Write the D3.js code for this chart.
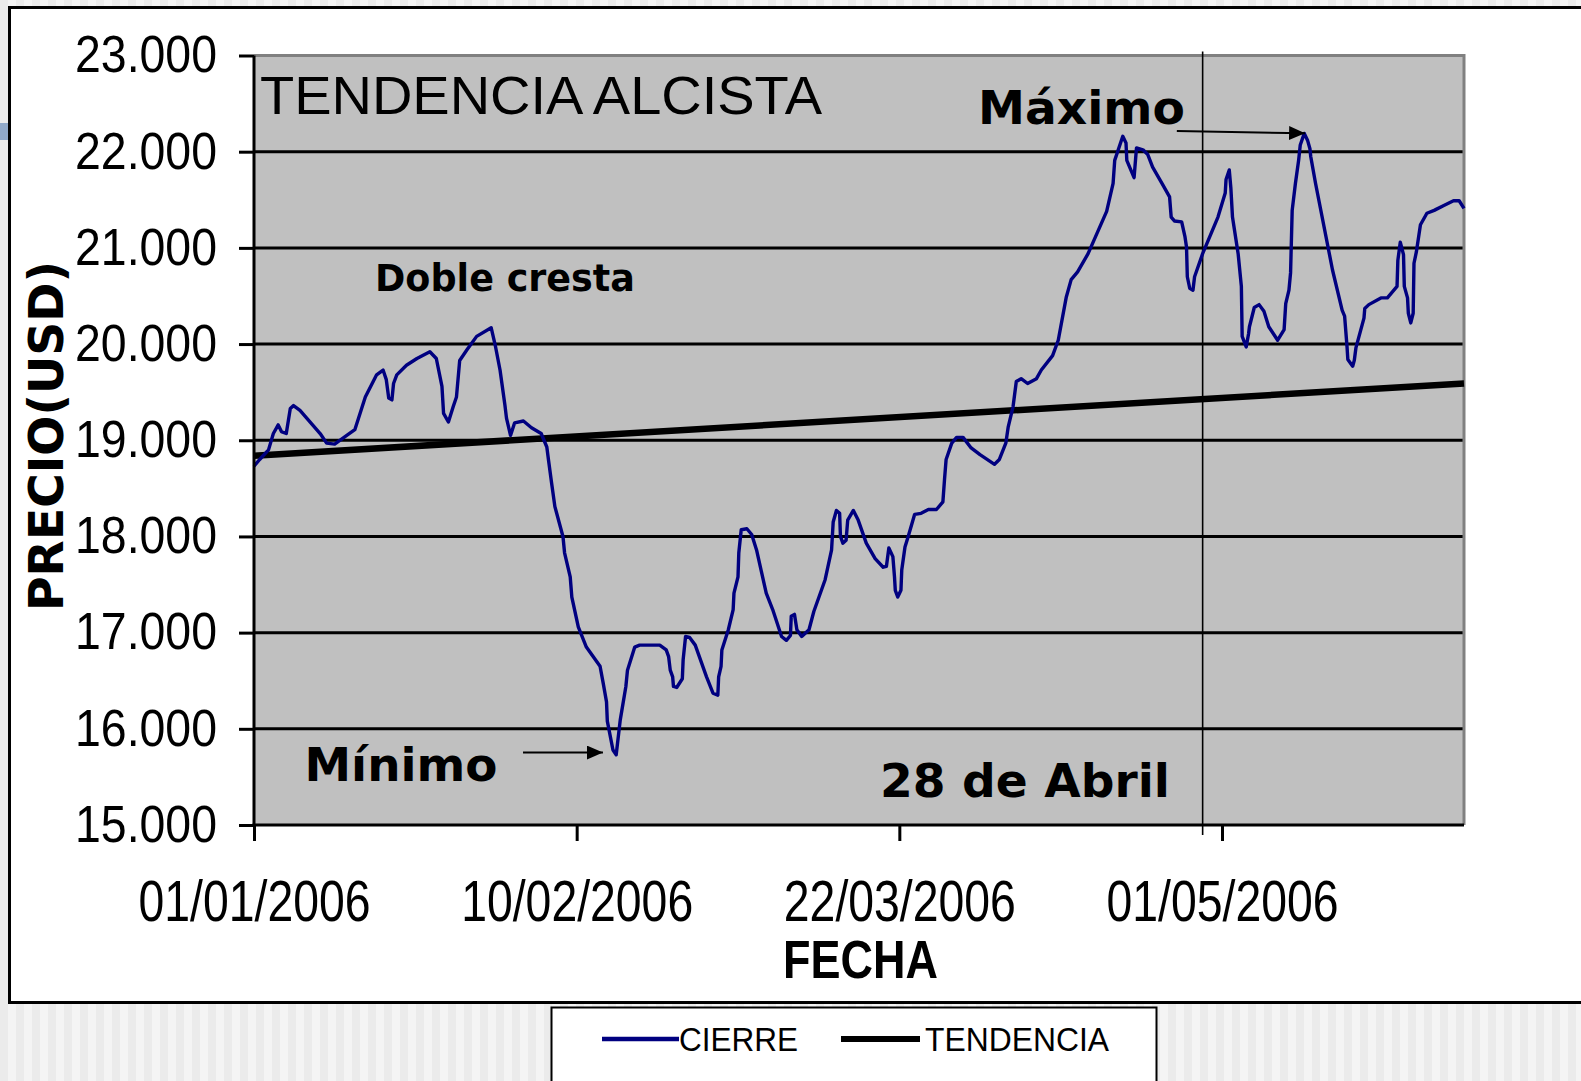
<!DOCTYPE html>
<html><head><meta charset="utf-8">
<script src="https://cdn.jsdelivr.net/npm/d3@7"></script>
<style>html,body{margin:0;padding:0;overflow:hidden;background:#f0f0f0}</style>
</head><body><svg id="c" width="1581" height="1081"></svg>
<script>
// ---------- DATA ----------
// days counted from 01/01/2006
const dias = [0,0.7,1.8,2.4,3.0,3.4,4.0,4.5,4.9,5.7,8.2,9.0,10.0,11.5,12.5,13.8,15.2,16.0,16.4,16.7,17.1,17.3,17.7,18.9,20.2,21.8,22.6,23.3,23.5,24.1,24.7,25.1,25.5,26.4,27.6,29.4,29.9,30.5,31.1,31.3,31.8,32.3,33.4,34.4,35.6,36.3,36.5,36.9,37.3,38.3,38.5,39.2,39.4,40.2,41.2,42.9,43.3,43.7,43.8,44.5,44.9,45.4,46.1,46.3,47.2,47.8,50.3,51.1,51.4,51.6,51.9,52.0,52.4,53.1,53.2,53.5,54.0,54.7,56.1,56.9,57.5,57.6,57.9,58.0,58.8,59.4,59.5,60.0,60.1,60.4,61.1,61.7,62.3,63.5,64.3,65.4,66.0,66.5,66.6,67.0,67.3,67.9,68.8,69.4,70.8,71.6,71.8,72.2,72.6,72.7,73.0,73.4,73.6,74.3,74.9,75.9,77.0,78.0,78.4,78.7,79.2,79.4,79.5,79.8,80.2,80.3,80.7,81.1,81.9,82.7,83.6,84.6,85.4,85.6,85.8,86.5,87.1,87.9,88.9,90.0,91.8,92.4,93.2,93.5,94.1,94.5,95.1,95.9,97.0,97.6,99.0,99.7,100.7,101.3,102.1,103.4,105.7,106.5,106.7,107.7,108.1,108.2,108.8,109.1,109.4,110.2,110.8,111.4,112.7,113.5,113.7,114.1,115.0,115.4,115.6,115.7,116.0,116.4,116.6,117.6,119.5,120.4,120.5,120.9,121.1,121.3,122.0,122.4,122.5,123.0,123.3,123.4,124.0,124.6,125.2,125.8,126.9,127.7,127.9,128.3,128.5,128.7,129.1,129.5,129.7,130.2,130.6,130.9,131.0,131.6,133.7,134.9,135.2,135.5,135.6,136.2,136.4,136.6,137.6,137.7,138.2,139.7,140.5,141.7,141.8,142.1,142.5,142.6,143.0,143.1,143.4,143.7,143.8,144.1,144.6,145.4,146.3,147.5,148.7,149.4,150.0];
const cierre = [18730,18800,18900,19070,19160,19090,19070,19330,19360,19310,19070,18970,18960,19050,19110,19450,19680,19730,19630,19440,19420,19590,19680,19780,19850,19920,19850,19560,19280,19190,19350,19450,19830,19940,20080,20170,19990,19730,19370,19230,19050,19180,19200,19130,19070,18930,18800,18550,18310,18000,17830,17580,17370,17060,16850,16650,16470,16280,16080,15780,15730,16090,16440,16610,16850,16870,16870,16820,16750,16610,16540,16440,16430,16520,16720,16960,16950,16870,16540,16370,16350,16540,16650,16820,17030,17240,17410,17580,17830,18070,18080,18020,17860,17410,17240,16960,16920,16970,17170,17190,17030,16960,17030,17220,17550,17860,18150,18270,18240,18000,17930,17960,18170,18270,18170,17930,17770,17680,17690,17880,17790,17580,17440,17370,17440,17650,17890,18000,18230,18240,18280,18280,18360,18590,18800,18970,19030,19030,18920,18850,18750,18800,18970,19140,19350,19610,19640,19590,19640,19730,19880,20040,20490,20670,20750,20940,21380,21670,21910,22160,22090,21910,21790,21730,22040,22020,21970,21840,21650,21530,21320,21280,21270,21120,21010,20700,20580,20560,20700,20940,21320,21570,21710,21810,21620,21320,20940,20600,20080,19970,20110,20180,20380,20410,20340,20180,20040,20150,20420,20560,20740,21390,21670,21910,22070,22190,22120,22030,21950,21670,20770,20350,20290,19970,19840,19770,19830,19960,20270,20370,20410,20480,20480,20600,20870,21060,20930,20600,20480,20320,20220,20320,20840,20960,21240,21360,21390,21440,21490,21490,21410];
const tendenciaDias = [0, 150];
const tendencia = [18840, 19590];
const yTicks = [15000,16000,17000,18000,19000,20000,21000,22000,23000];
const xTickDias = [0, 40, 80, 120];
const diaFinal = 150;
const marcaDia = 117.6;           // "28 de Abril" marker
const serieNombres = ["CIERRE", "TENDENCIA"];

// ---------- SETUP ----------
const base = Date.UTC(2006, 0, 1);
const toDate = d => new Date(base + d * 864e5);
const svg = d3.select("#c");
const L = 254, R = 1464, T = 55.5, B = 825;
const x = d3.scaleUtc().domain([toDate(0), toDate(diaFinal)]).range([L, R]);
const y = d3.scaleLinear().domain([15000, 23000]).range([B, T]);
const loc = d3.formatLocale({decimal: ",", thousands: ".", grouping: [3], currency: ["$", ""]});
const fmtY = loc.format(",d");
const fmtX = d3.utcFormat("%d/%m/%Y");
const NARROW = "'Liberation Sans Narrow','Arial Narrow','Liberation Sans',Arial,sans-serif";
const ARIAL = "'Liberation Sans',Arial,sans-serif";
const VERD = "'DejaVu Sans',Verdana,sans-serif";

// page background stripes
const defs = svg.append("defs");
const pat = defs.append("pattern").attr("id", "stripes").attr("patternUnits", "userSpaceOnUse")
  .attr("width", 16).attr("height", 16);
pat.append("rect").attr("width", 16).attr("height", 16).attr("fill", "#f4f4f4");
pat.append("rect").attr("width", 8).attr("height", 16).attr("fill", "#ebebeb");
svg.append("rect").attr("width", 1581).attr("height", 1081).attr("fill", "url(#stripes)");
svg.append("rect").attr("x", 0).attr("y", 123).attr("width", 8).attr("height", 17).attr("fill", "#91a9c9");

// chart area
svg.append("rect").attr("x", 9.5).attr("y", 7.5).attr("width", 1620).attr("height", 995)
  .attr("fill", "#fff").attr("stroke", "#000").attr("stroke-width", 3);

// plot background
svg.append("rect").attr("x", L).attr("y", T).attr("width", R - L).attr("height", B - T).attr("fill", "#c0c0c0");

// gridlines
svg.append("g").selectAll("line").data(yTicks.filter(v => v > 15000 && v < 23000)).join("line")
  .attr("x1", L).attr("x2", R).attr("y1", d => y(d)).attr("y2", d => y(d))
  .attr("stroke", "#000").attr("stroke-width", 3);

// plot border (top/right, gray)
svg.append("path").attr("d", `M${L},${T}H${R}V${B}`).attr("fill", "none")
  .attr("stroke", "#808080").attr("stroke-width", 3);

// vertical marker line
svg.append("line").attr("x1", x(toDate(marcaDia))).attr("x2", x(toDate(marcaDia)))
  .attr("y1", T - 4).attr("y2", B + 10).attr("stroke", "#000").attr("stroke-width", 1.6);

// trend
const trendData = tendenciaDias.map((d, i) => ({d: toDate(d), v: tendencia[i]}));
svg.append("path").datum(trendData)
  .attr("d", d3.line().x(p => x(p.d)).y(p => y(p.v)))
  .attr("fill", "none").attr("stroke", "#000").attr("stroke-width", 6.5);

// close series
const serie = dias.map((d, i) => ({d: toDate(d), v: cierre[i]}));
svg.append("path").datum(serie)
  .attr("d", d3.line().x(p => x(p.d)).y(p => y(p.v)))
  .attr("fill", "none").attr("stroke", "#000080").attr("stroke-width", 3.4)
  .attr("stroke-linejoin", "round");

// axes
const yAxis = d3.axisLeft(y).tickValues(yTicks).tickSize(15).tickPadding(22).tickFormat(fmtY);
const gy = svg.append("g").attr("transform", `translate(${L},0)`).call(yAxis);
gy.select(".domain").attr("stroke", "#000").attr("stroke-width", 3).attr("d", `M0,${T}V${B}`);
gy.selectAll(".tick line").attr("stroke", "#000").attr("stroke-width", 3);
gy.selectAll(".tick text").attr("font-family", NARROW).attr("font-size", 51).attr("fill", "#000")
  .attr("textLength", 142).attr("lengthAdjust", "spacingAndGlyphs");

const xAxis = d3.axisBottom(x).tickValues(xTickDias.map(toDate)).tickSize(16).tickPadding(40).tickFormat(fmtX);
const gx = svg.append("g").attr("transform", `translate(0,${B})`).call(xAxis);
gx.select(".domain").attr("stroke", "#000").attr("stroke-width", 3).attr("d", `M${L - 1.5},0H${R}`);
gx.selectAll(".tick line").attr("stroke", "#000").attr("stroke-width", 3);
gx.selectAll(".tick text").attr("font-family", NARROW).attr("font-size", 57).attr("fill", "#000")
  .attr("textLength", 232).attr("lengthAdjust", "spacingAndGlyphs");

// axis titles
svg.append("text").attr("transform", "translate(63,436) rotate(-90)").attr("text-anchor", "middle")
  .attr("font-family", VERD).attr("font-weight", "bold").attr("font-size", 48)
  .attr("textLength", 350).attr("lengthAdjust", "spacingAndGlyphs").text("PRECIO(USD)");
svg.append("text").attr("x", 860.5).attr("y", 978).attr("text-anchor", "middle")
  .attr("font-family", NARROW).attr("font-weight", "bold").attr("font-size", 53)
  .attr("textLength", 155).attr("lengthAdjust", "spacingAndGlyphs").text("FECHA");

// annotations (positions in data space)
const notas = [
  {t: "TENDENCIA ALCISTA", d: 0.74, v: 22392, f: ARIAL, w: "normal", s: 54, len: 562},
  {t: "Doble cresta", d: 15.0, v: 20547, f: VERD, w: "bold", s: 36.5, len: 260},
  {t: "Máximo", d: 89.75, v: 22288, f: VERD, w: "bold", s: 47, len: 207},
  {t: "Mínimo", d: 6.26, v: 15453, f: VERD, w: "bold", s: 47, len: 193},
  {t: "28 de Abril", d: 77.6, v: 15286, f: VERD, w: "bold", s: 47, len: 290}
];
svg.append("g").selectAll("text").data(notas).join("text")
  .attr("x", n => x(toDate(n.d))).attr("y", n => y(n.v))
  .attr("font-family", n => n.f).attr("font-weight", n => n.w).attr("font-size", n => n.s)
  .attr("textLength", n => n.len).attr("lengthAdjust", "spacingAndGlyphs").text(n => n.t);

defs.append("marker").attr("id", "ah").attr("markerUnits", "userSpaceOnUse")
  .attr("viewBox", "0 0 16 14").attr("markerWidth", 16).attr("markerHeight", 14)
  .attr("refX", 16).attr("refY", 7).attr("orient", "auto")
  .append("path").attr("d", "M0,0L16,7L0,14Z").attr("fill", "#000");
const flechas = [
  {d1: 33.35, v1: 15753, d2: 43.26, v2: 15753},
  {d1: 114.4, v1: 22215, d2: 130.3, v2: 22191}
];
svg.append("g").selectAll("line").data(flechas).join("line")
  .attr("x1", f => x(toDate(f.d1))).attr("y1", f => y(f.v1))
  .attr("x2", f => x(toDate(f.d2))).attr("y2", f => y(f.v2))
  .attr("stroke", "#000").attr("stroke-width", 2).attr("marker-end", "url(#ah)");

// legend
const lg = svg.append("g");
lg.append("rect").attr("x", 551.5).attr("y", 1007.5).attr("width", 605).attr("height", 100)
  .attr("fill", "#fff").attr("stroke", "#000").attr("stroke-width", 2);
const legItems = [
  {n: serieNombres[0], c: "#000080", sw: 4.5, x1: 602, x2: 679, tl: 119, gap: 0},
  {n: serieNombres[1], c: "#000", sw: 6, x1: 841, x2: 920, tl: 184, gap: 5}
];
legItems.forEach(it => {
  lg.append("line").attr("x1", it.x1).attr("x2", it.x2).attr("y1", 1039).attr("y2", 1039)
    .attr("stroke", it.c).attr("stroke-width", it.sw);
  lg.append("text").attr("x", it.x2 + it.gap).attr("y", 1051)
    .attr("font-family", NARROW).attr("font-size", 34)
    .attr("textLength", it.tl).attr("lengthAdjust", "spacingAndGlyphs").text(it.n);
});
</script></body></html>
